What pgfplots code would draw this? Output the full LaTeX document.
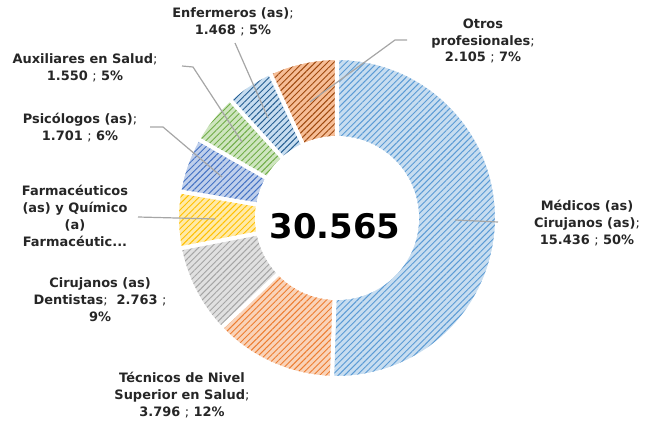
\documentclass[border=0pt]{standalone}
\usepackage{fontspec}
\setmainfont{DejaVu Sans}
\usepackage{pgfplots}
\pgfplotsset{compat=1.18}
\usetikzlibrary{patterns.meta}
\definecolor{mL}{HTML}{BDD7EE}\definecolor{mD}{HTML}{5B9BD5}
\definecolor{tL}{HTML}{F8CBAD}\definecolor{tD}{HTML}{ED7D31}
\definecolor{cL}{HTML}{DBDBDB}\definecolor{cD}{HTML}{A5A5A5}
\definecolor{fL}{HTML}{FFE699}\definecolor{fD}{HTML}{FFC000}
\definecolor{pL}{HTML}{B4C7E7}\definecolor{pD}{HTML}{4472C4}
\definecolor{aL}{HTML}{C5E0B4}\definecolor{aD}{HTML}{70AD47}
\definecolor{eL}{HTML}{BDD7EE}\definecolor{eD}{HTML}{255E91}
\definecolor{oL}{HTML}{F4B183}\definecolor{oD}{HTML}{9E480E}
\definecolor{leader}{HTML}{A6A6A6}
\newcommand\semi{{\mdseries;}}
\begin{document}
\begin{tikzpicture}
\begin{axis}[scale only axis, width=646bp, height=421bp,
  xmin=-337, xmax=309, ymin=-203, ymax=218, hide axis, clip=false]
\pgfplotsextra{
  \gdef\cum{0}
  \foreach \v/\lc/\dc in {15436/mL/mD, 3796/tL/tD, 2763/cL/cD, 1746/fL/fD,
                          1701/pL/pD, 1550/aL/aD, 1468/eL/eD, 2105/oL/oD}{
    \pgfmathsetmacro\fr{(\v/100)/305.65}
    \pgfmathsetmacro\a{90-\cum*360}
    \pgfmathsetmacro\b{90-(\cum+\fr)*360}
    \pgfmathsetmacro\nc{\cum+\fr}
    \xdef\cum{\nc}
    \def\wedge{(axis cs:{160*cos(\a)},{160*sin(\a)}) arc[start angle=\a, end angle=\b, radius=160bp]
       -- (axis cs:{80*cos(\b)},{80*sin(\b)}) arc[start angle=\b, end angle=\a, radius=80bp] -- cycle}
    \fill[\lc!85!white] \wedge;
    \fill[pattern={Lines[angle=45,distance=4.4bp,line width=0.95bp]}, pattern color=\dc] \wedge;
    \draw[white, line width=4bp, line join=miter] \wedge;
  }
}
\begin{scope}[every node/.style={align=center, font=\fontsize{13}{17}\selectfont\bfseries, text=black!85}]
\draw[leader, line width=1.2bp] (axis cs:-102,175) -- (axis cs:-69,100);
\draw[leader, line width=1.2bp] (axis cs:-155,152) -- (axis cs:-144,151) -- (axis cs:-95,76);
\draw[leader, line width=1.2bp] (axis cs:-187,91) -- (axis cs:-174,91) -- (axis cs:-115,41);
\draw[leader, line width=1.2bp] (axis cs:-199,1) -- (axis cs:-122,-1);
\draw[leader, line width=1.2bp] (axis cs:70,178) -- (axis cs:58,178) -- (axis cs:-27,116);
\draw[leader, line width=1.2bp] (axis cs:118,-2) -- (axis cs:161,-4);
\node at (axis cs:-104,196) {Enfermeros (as)\semi\\1.468 \semi{} 5\%};
\node at (axis cs:-252,150) {Auxiliares en Salud\semi\\1.550 \semi{} 5\%};
\node at (axis cs:-257,90) {Psicólogos (as)\semi\\1.701 \semi{} 6\%};
\node at (axis cs:-262,2) {Farmacéuticos\\(as) y Químico\\(a)\\Farmacéutic...};
\node at (axis cs:-237,-82) {Cirujanos (as)\\Dentistas\semi\ \ 2.763 \semi\\9\%};
\node at (axis cs:-155,-177) {Técnicos de Nivel\\Superior en Salud\semi\\3.796 \semi{} 12\%};
\node at (axis cs:146,177) {Otros\\profesionales\semi\\2.105 \semi{} 7\%};
\node at (axis cs:250,-5) {Médicos (as)\\Cirujanos (as)\semi\\15.436 \semi{} 50\%};
\node[font=\fontsize{34}{34}\selectfont\bfseries, text=black] at (axis cs:-2,-8) {30.565};
\end{scope}
\end{axis}
\useasboundingbox (current axis.south west) rectangle (current axis.north east);
\end{tikzpicture}
\end{document}
